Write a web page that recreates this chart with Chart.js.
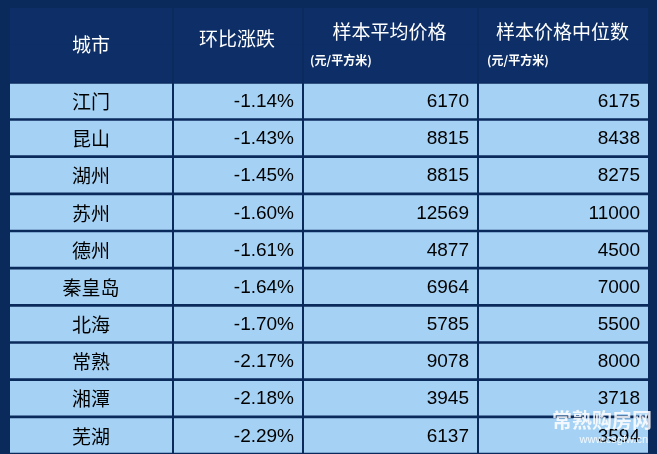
<!DOCTYPE html><html><head><meta charset="utf-8">
<script src="https://cdn.jsdelivr.net/npm/chart.js@4"></script>
<style>html,body{margin:0;padding:0;background:#0b2a5c;overflow:hidden}</style></head><body>
<canvas id="c" width="657" height="454" style="display:block;width:657px;height:454px"></canvas>
<script>
const headers = ["城市","环比涨跌","样本平均价格","样本价格中位数"];
const unitLabel = "(元/平方米)";
const cities = ["江门","昆山","湖州","苏州","德州","秦皇岛","北海","常熟","湘潭","芜湖"];
const changes = ["-1.14%","-1.43%","-1.45%","-1.60%","-1.61%","-1.64%","-1.70%","-2.17%","-2.18%","-2.29%"];
const avgPrice = [6170,8815,8815,12569,4877,6964,5785,9078,3945,6137];
const medianPrice = [6175,8438,8275,11000,4500,7000,5500,8000,3718,3594];
const colEdges = [0,162,292,467,638];

const rows = ["h1","h2",...cities];
const datasets = [];
for (let c=0;c<4;c++){
  datasets.push({label:"head"+c, data: rows.map((r,i)=> i<2 ? [colEdges[c]+(c?2:0), colEdges[c+1]] : null),
    backgroundColor:"#0d2e66", borderWidth:0, barPercentage:1, categoryPercentage:1, grouped:false});
  datasets.push({label:"col"+c, data: rows.map((r,i)=> i>=2 ? [colEdges[c]+(c?2:0), colEdges[c+1]] : null),
    backgroundColor:"#a5d2f4", barPercentage:0.93, categoryPercentage:1, grouped:false});
}
const txt = {id:"txt", afterDatasetsDraw(ch){
  const ctx=ch.ctx, x=ch.scales.x, y=ch.scales.y;
  const y0=y.getPixelForValue(0), y1=y.getPixelForValue(1), hy=(y0+y1)/2;
  const cx=c=>(x.getPixelForValue(colEdges[c])+x.getPixelForValue(colEdges[c+1]))/2;
  ctx.save(); ctx.fillStyle="#fff"; ctx.textBaseline="middle";
  ctx.font="19px 'Noto Sans CJK SC'"; ctx.textAlign="center";
  ctx.fillText(headers[0],cx(0),hy); ctx.fillText(headers[1],cx(1),hy-6);
  ctx.fillText(headers[2],cx(2),hy-13); ctx.fillText(headers[3],cx(3),hy-13);
  ctx.font="bold 12px 'Noto Sans CJK SC'"; ctx.textAlign="left";
  ctx.fillText(unitLabel,x.getPixelForValue(colEdges[2])+8,hy+15);
  ctx.fillText(unitLabel,x.getPixelForValue(colEdges[3])+10,hy+15);
  ctx.fillStyle="#000";
  cities.forEach((city,i)=>{
    const py=y.getPixelForValue(i+2)+1;
    ctx.font="19px 'Noto Sans CJK SC'"; ctx.textAlign="center"; ctx.fillText(city,cx(0),py);
    ctx.font="19px 'Liberation Sans'"; ctx.textAlign="right";
    ctx.fillText(changes[i],x.getPixelForValue(colEdges[2])-8,py);
    ctx.fillText(String(avgPrice[i]),x.getPixelForValue(colEdges[3])-8,py);
    ctx.fillText(String(medianPrice[i]),x.getPixelForValue(colEdges[4])-8,py);
  });
  ctx.fillStyle="rgba(255,255,255,0.85)"; ctx.textAlign="right";
  ctx.font="bold 20px 'Noto Sans CJK SC'"; ctx.fillText("常熟购房网",652,420);
  ctx.font="11px 'Liberation Sans'"; ctx.fillText("www.csgfw.cn",648,440);
  ctx.restore();
}};
new Chart(document.getElementById("c"),{type:"bar",data:{labels:rows,datasets},
 options:{indexAxis:"y",responsive:false,animation:false,devicePixelRatio:1,
  layout:{padding:{left:10,right:9,top:8,bottom:0}},
  plugins:{legend:{display:false},tooltip:{enabled:false}},
  scales:{x:{type:"linear",min:0,max:638,display:false},y:{display:false,offset:true}}},
 plugins:[txt]});
</script></body></html>
